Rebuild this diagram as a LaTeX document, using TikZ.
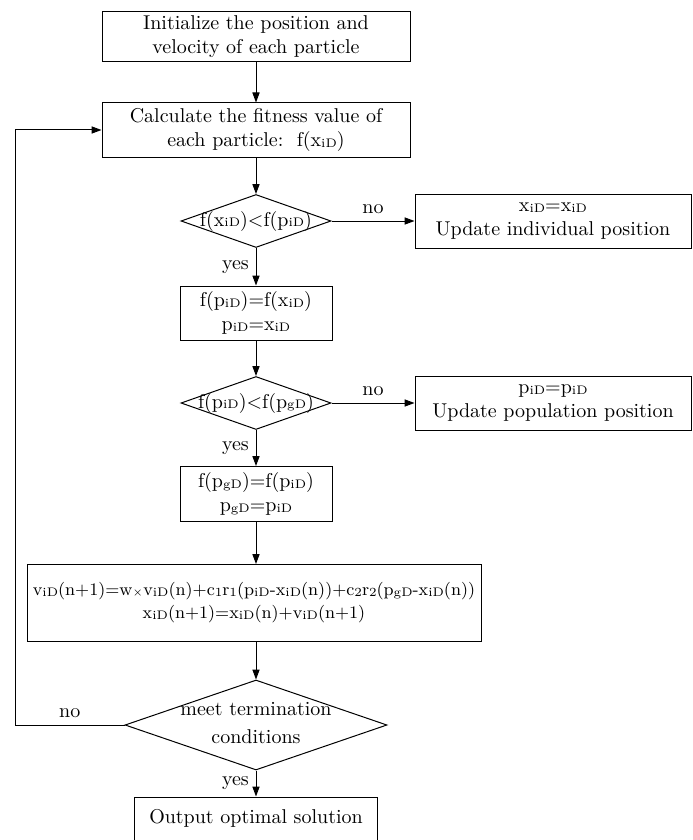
\documentclass[tikz,border=0pt]{standalone}
\usetikzlibrary{shapes.geometric,arrows.meta,positioning}

% small index letters sitting near the baseline
\newcommand{\sbs}[1]{\raisebox{-0.1ex}{\fontsize{6.2}{7}\selectfont #1}}

\begin{document}
\begin{tikzpicture}[
    x=0.5pt, y=-0.5pt,
    line width=0.5pt,
    process/.style={draw, rectangle, align=center, inner sep=0pt},
    decision/.style={draw, diamond, inner sep=0pt},
    flow/.style={-{Triangle[length=5pt,width=3.6pt]}}
    ]
    \useasboundingbox (0,0) rectangle (692,840);

    \node[process, minimum width=154pt, minimum height=25pt] (init) at (256,37)
        {Initialize the position and\\velocity of each particle};
    \node[process, minimum width=154pt, minimum height=27pt] (fitness) at (256,130)
        {Calculate the fitness value of\\each particle:\ \ f(x\sbs{iD})};
    \node[decision, minimum width=75pt, minimum height=26.5pt] (cmpA) at (256,221)
        {\makebox[0pt]{f(x\sbs{iD})<f(p\sbs{iD})}};
    \node[process, minimum width=138pt, minimum height=27pt] (keepA) at (553,221)
        {x\sbs{iD}=x\sbs{iD}\\Update individual position};
    \node[process, minimum width=76pt, minimum height=27pt] (pbest) at (256,313)
        {f(p\sbs{iD})=f(x\sbs{iD})\\p\sbs{iD}=x\sbs{iD}};
    \node[decision, minimum width=75pt, minimum height=26.5pt] (cmpB) at (256,403)
        {\makebox[0pt]{f(p\sbs{iD})<f(p\sbs{gD})}};
    \node[process, minimum width=138pt, minimum height=27pt] (keepB) at (553,403)
        {p\sbs{iD}=p\sbs{iD}\\Update population position};
    \node[process, minimum width=76pt, minimum height=27.5pt] (gbest) at (256,494)
        {f(p\sbs{gD})=f(p\sbs{iD})\\p\sbs{gD}=p\sbs{iD}};
    \node[process, minimum width=227pt, minimum height=38.5pt, font=\fontsize{8.8}{11.5}\selectfont] (update) at (254,603)
        {v\sbs{iD}(n+1)=w{\fontsize{5}{6}\selectfont$\times$}v\sbs{iD}(n)+c\sbs{1}r\sbs{1}(p\sbs{iD}-x\sbs{iD}(n))+c\sbs{2}r\sbs{2}(p\sbs{gD}-x\sbs{iD}(n))\\
         x\sbs{iD}(n+1)=x\sbs{iD}(n)+v\sbs{iD}(n+1)};
    \node[decision, minimum width=131pt, minimum height=45pt] (stop) at (256,725)
        {\makebox[0pt]{\begin{tabular}{@{}c@{}}meet termination\\[2pt]conditions\end{tabular}}};
    \node[process, minimum width=121.5pt, minimum height=21.5pt] (out) at (256,818.5)
        {Output optimal solution};
    \coordinate (loop) at (15,725);

    \draw[flow] (init) -- (fitness);
    \draw[flow] (fitness) -- (cmpA);
    \draw[flow] (cmpA) -- node[above] {no} (keepA);
    \draw[flow] (cmpA) -- node[left] {yes} (pbest);
    \draw[flow] (pbest) -- (cmpB);
    \draw[flow] (cmpB) -- node[above] {no} (keepB);
    \draw[flow] (cmpB) -- node[left] {yes} (gbest);
    \draw[flow] (gbest) -- (update.north -| gbest);
    \draw[flow] (update.south -| stop) -- (stop);
    \draw[flow] (stop) -- node[left] {yes} (out);
    \draw[flow] (stop.west) -- node[above] {no} (loop) |- (fitness.west);
\end{tikzpicture}
\end{document}
